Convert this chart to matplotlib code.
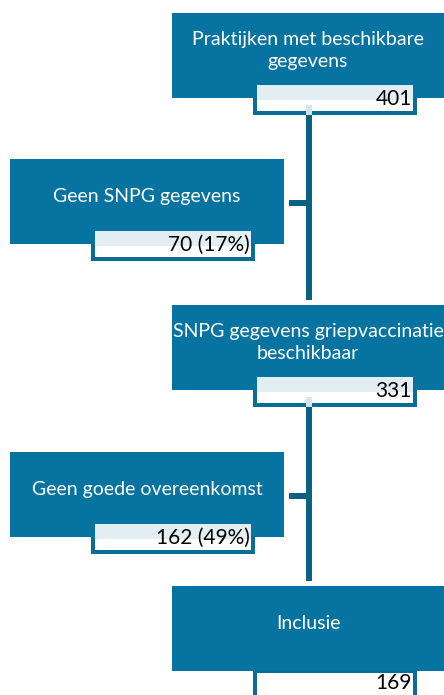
import matplotlib
matplotlib.use("Agg")
import matplotlib.pyplot as plt
from matplotlib.patches import Rectangle

plt.rcParams['font.family'] = ['Lato', 'DejaVu Sans']

# flow chart content
labels = [
    "Praktijken met beschikbare\ngegevens",
    "Geen SNPG gegevens",
    "SNPG gegevens griepvaccinatie\nbeschikbaar",
    "Geen goede overeenkomst",
    "Inclusie",
]
counts = [401, 70, 331, 162, 169]
percents = [None, 17, None, 49, None]
is_side = [False, True, False, True, False]

box_color = "#0773a0"
line_color = "#0b6184"
tab_edge = "#0a6d95"
tab_light = "#e3eef3"


def count_text(n, p):
    if p is None:
        return str(n)
    return "%d (%d%%)" % (n, p)


def plotFlow():
    fig = plt.figure(figsize=(4.44, 6.95), dpi=100)
    ax = fig.add_axes([0, 0, 1, 1])
    ax.set_xlim(0, 444)
    ax.set_ylim(695, 0)
    ax.axis("off")

    tops = [13, 159, 305, 452, 586]
    box_h = 85
    main_x, main_w = 172, 280
    side_x, side_w = 10, 274
    line_x = 308.5

    # vertical connectors between main boxes
    main_rows = [i for i in range(len(labels)) if not is_side[i]]
    for a, b in zip(main_rows[:-1], main_rows[1:]):
        y0 = tops[a] + box_h + 17
        y1 = tops[b] - 5
        ax.add_patch(Rectangle((line_x - 2.5, y0), 5.5, y1 - y0,
                               facecolor=line_color, edgecolor="none", zorder=1))

    for i, lab in enumerate(labels):
        top = tops[i]
        last = i == len(labels) - 1
        if is_side[i]:
            x, w = side_x, side_w
            tab_x = 91
            # stub to the connector
            ax.add_patch(Rectangle((289, top + 41), line_x - 289, 6,
                                   facecolor=line_color, edgecolor="none", zorder=1))
        else:
            x, w = main_x, main_w
            tab_x = 253
        bottom = top + box_h
        ax.add_patch(Rectangle((x, top), w, box_h, facecolor=box_color,
                               edgecolor="none", zorder=2))
        ax.text(x + w / 2 if is_side[i] else 308, top + box_h / 2 - 5, lab,
                color="white", fontsize=14, ha="center", va="center",
                linespacing=1.35, zorder=5)

        # count tab
        tab_w = 164
        tab_top = bottom + 2 if last else bottom - 13
        tab_bot = 705 if last else bottom + 17
        ax.add_patch(Rectangle((tab_x, bottom - 1), tab_w, tab_bot - bottom + 1,
                               facecolor=tab_edge, edgecolor="none", zorder=3))
        ax.add_patch(Rectangle((tab_x + 4, tab_top), tab_w - 8, tab_bot - tab_top - 4,
                               facecolor="white", edgecolor="none", zorder=4))
        if tab_top < bottom:
            ax.add_patch(Rectangle((tab_x + 4, tab_top), tab_w - 8, bottom + 2 - tab_top,
                                   facecolor=tab_light, edgecolor="none", zorder=4))
        if not is_side[i] and not last:
            ax.add_patch(Rectangle((line_x - 2.5, bottom + 7), 5.5, tab_bot - bottom - 7,
                                   facecolor="#d3e5ed", edgecolor="none", zorder=4))
        ty = bottom + 12 if last else tab_top + 14
        ax.text(tab_x + tab_w - 5, ty, count_text(counts[i], percents[i]),
                color="black", fontsize=15, ha="right", va="center", zorder=6)

    fig.savefig("out.png", dpi=100)


if __name__ == "__main__":
    plotFlow()
